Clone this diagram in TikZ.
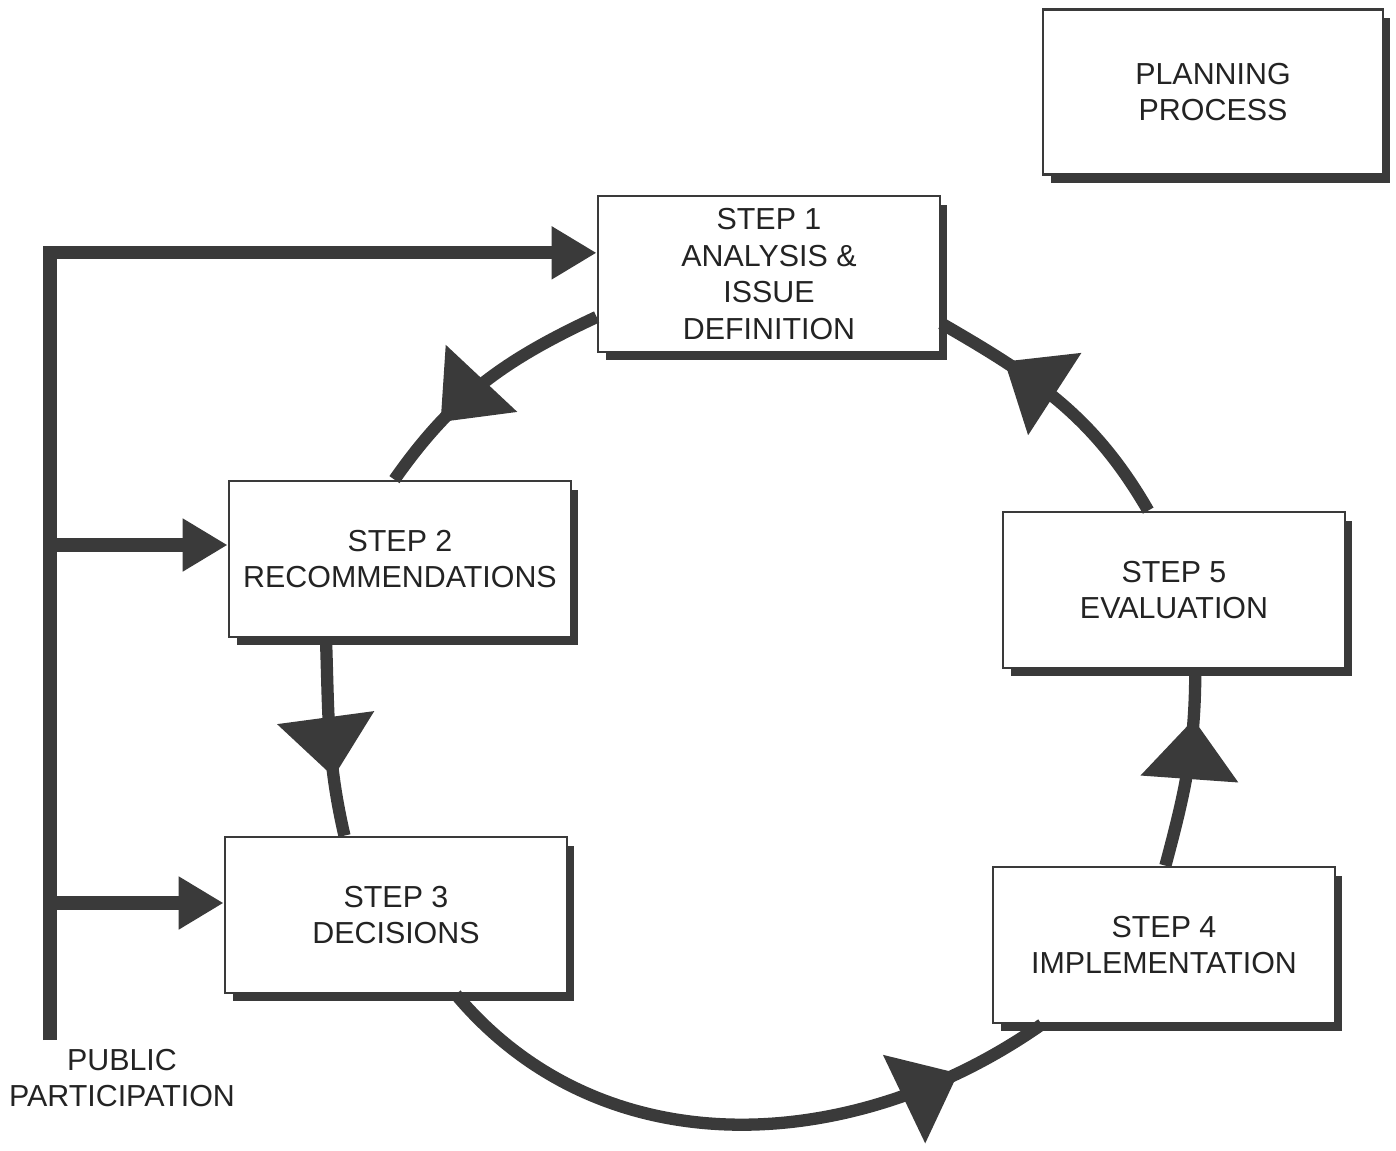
\documentclass[tikz,border=0pt]{standalone}
\usepackage{fontspec}
\setmainfont{Liberation Sans}
\usepackage{xcolor}
\definecolor{dgray}{RGB}{58,58,58}
\definecolor{tgray}{RGB}{35,35,35}
\usetikzlibrary{positioning, calc, shapes, arrows.meta, decorations.markings, shadows}
\tikzstyle{Box} = [
draw=dgray,
line width=1.6pt,
fill=white,
align=center,
text=tgray,
font=\fontsize{17.3}{21}\selectfont,
minimum width=6.84cm,
minimum height=3.12cm,
drop shadow={shadow xshift=0.15cm, shadow yshift=-0.17cm, fill=dgray, opacity=1}]
\tikzstyle{Label} = [
align=center,
text=tgray,
font=\fontsize{17.3}{21}\selectfont]
\tikzstyle{PartArrow} = [
line width=7.5pt,
dgray,
-{Triangle[length=0.9cm, width=1cm]}]
\tikzset{CycleArrow/.style={
line width=7pt,
dgray,
decoration={
markings,
mark=at position #1 with {
\arrow{Triangle[length=1.2cm, width=1.9cm]}}},
postaction = {decorate}}}

\begin{document}
\begin{tikzpicture}[x=0.02cm, y=-0.02cm]
    \useasboundingbox (0,0) rectangle (1396,1150);

    \node [Box, minimum width=6.8cm, minimum height=3.3cm] (plan) at (1213,92) {PLANNING\\PROCESS};
    \node [Box] (1) at (769,274) {STEP 1\\ANALYSIS \&\\ISSUE\\DEFINITION};
    \node [Box] (2) at (400,559) {STEP 2\\RECOMMENDATIONS};
    \node [Box] (3) at (396,915) {STEP 3\\DECISIONS};
    \node [Box] (4) at (1164,945) {STEP 4\\IMPLEMENTATION};
    \node [Box] (5) at (1174,590) {STEP 5\\EVALUATION};

    \draw[CycleArrow=0.72] (1.194) to [out=205, in=55] (2.94);
    \draw[CycleArrow=0.7] (2.227) to [out=272, in=103] (3.123);
    \draw[CycleArrow=0.85] (3.-53) to [out=310, in=215] (4.213);
    \draw[CycleArrow=0.75] (4.89) to [out=75, in=270] (5.-75);
    \draw[CycleArrow=0.74] (5.108) to [out=120, in=330] (1.-16);

    \coordinate (pbot) at (50,1040);
    \coordinate (b2) at (50,545);
    \coordinate (b3) at (50,903);
    \draw[PartArrow] (pbot) |- (1.173);
    \draw[PartArrow] (b2) -- (2.west |- b2);
    \draw[PartArrow] (b3) -- (3.west |- b3);
    \node [Label] (public) at (122,1078) {PUBLIC\\PARTICIPATION};
\end{tikzpicture}
\end{document}
